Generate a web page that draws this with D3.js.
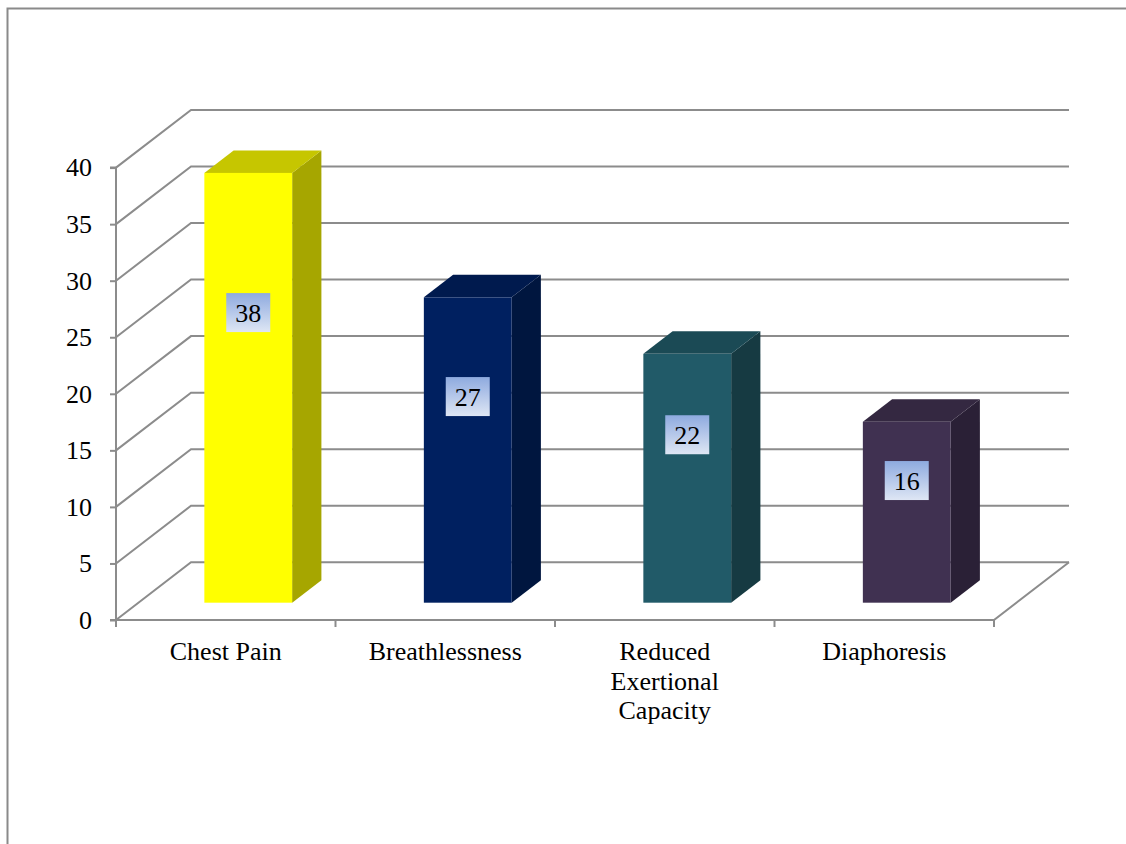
<!DOCTYPE html>
<html>
<head>
<meta charset="utf-8">
<script src="https://cdn.jsdelivr.net/npm/d3@7"></script>
<style>
  html, body { margin: 0; padding: 0; background: #ffffff; }
  svg { display: block; }
  svg text { font-family: "Times New Roman", "Liberation Serif", "DejaVu Serif", serif; fill: #000; }
</style>
</head>
<body>
<svg id="chart" width="1126" height="844"></svg>
<script>
// Symptom counts
const categories = ["Chest Pain", "Breathlessness", "Reduced Exertional Capacity", "Diaphoresis"];
const values = [38, 27, 22, 16];
const yTicks = [0, 5, 10, 15, 20, 25, 30, 35, 40];

// Bar face colours: front, top, side
const frontColors = ["#FFFF00", "#002060", "#215A68", "#403151"];
const topColors   = ["#C6C600", "#001A4E", "#1B4A55", "#342841"];
const sideColors  = ["#A6A600", "#00163F", "#163A42", "#2A2036"];

const FONT = '"Times New Roman", "Liberation Serif", "DejaVu Serif", serif';

const svg = d3.select("#chart");
const W = 1126, H = 844;

// Plot geometry (oblique 3D projection)
const x0 = 116, x1 = 994;        // front floor edge
const yBase = 620, yTop = 167.6; // front y for 0 and 40
const depthX = 75, depthY = -57.7; // full depth offset of the back wall
const barFront = 0.30, barBack = 0.69; // bar depth position (fraction of full depth)
const barWidthFrac = 0.40;
const labelFrac = 0.675;         // label height along the bar's front face
const gridColor = "#8C8C8C";

const y = d3.scaleLinear().domain([0, 40]).range([yBase, yTop]);
const x = d3.scaleBand().domain(categories).range([x0, x1]).padding(0);

// Outer border
svg.append("rect")
  .attr("x", 7.5).attr("y", 8.5)
  .attr("width", W + 20).attr("height", H + 20)
  .attr("fill", "none").attr("stroke", "#8A8A8A").attr("stroke-width", 2);

// Side wall diagonals + back wall gridlines
const grid = svg.append("g").attr("fill", "none").attr("stroke", gridColor).attr("stroke-width", 2);
yTicks.forEach(t => {
  const yy = y(t);
  grid.append("path")
    .attr("d", d3.line()([[x0, yy], [x0 + depthX, yy + depthY], [x1 + depthX, yy + depthY]]));
});

// Floor: front edge and right edge
grid.append("path").attr("d", d3.line()([[x0, yBase], [x1, yBase], [x1 + depthX, yBase + depthY]]));

// Bars
const fdx = depthX * barFront, fdy = depthY * barFront;
const sdx = depthX * (barBack - barFront), sdy = depthY * (barBack - barFront);
const bars = svg.append("g");
categories.forEach((c, i) => {
  const v = values[i];
  const bw = x.bandwidth() * barWidthFrac;
  const left = x(c) + (x.bandwidth() - bw) / 2 + fdx;
  const right = left + bw;
  const bottom = y(0) + fdy;
  const top = y(v) + fdy;
  // side face
  bars.append("path")
    .attr("d", d3.line()([[right, bottom], [right + sdx, bottom + sdy], [right + sdx, top + sdy], [right, top]]) + "Z")
    .attr("fill", sideColors[i]);
  // top face
  bars.append("path")
    .attr("d", d3.line()([[left, top], [left + sdx, top + sdy], [right + sdx, top + sdy], [right, top]]) + "Z")
    .attr("fill", topColors[i]);
  // front face
  bars.append("rect")
    .attr("x", left).attr("y", top)
    .attr("width", bw).attr("height", bottom - top)
    .attr("fill", frontColors[i]);
});

// Value label boxes
const defs = svg.append("defs");
const grad = defs.append("linearGradient").attr("id", "labelFill")
  .attr("x1", 0).attr("y1", 0).attr("x2", 0).attr("y2", 1);
grad.append("stop").attr("offset", "0%").attr("stop-color", "#8EAADF");
grad.append("stop").attr("offset", "100%").attr("stop-color", "#DEE6F4");

const labels = svg.append("g");
categories.forEach((c, i) => {
  const v = values[i];
  const cx = x(c) + x.bandwidth() / 2 + fdx;
  const bottom = y(0) + fdy;
  const top = y(v) + fdy;
  const cy = bottom - (bottom - top) * labelFrac;
  const bw = 44, bh = 39;
  labels.append("rect")
    .attr("x", cx - bw / 2).attr("y", cy - bh / 2)
    .attr("width", bw).attr("height", bh)
    .attr("fill", "url(#labelFill)");
  labels.append("text")
    .attr("x", cx).attr("y", cy)
    .attr("dy", "0.35em")
    .attr("text-anchor", "middle")
    .attr("font-family", FONT)
    .attr("font-size", 26)
    .text(v);
});

// Value axis (front left edge)
const yAxis = d3.axisLeft(y).tickValues(yTicks).tickSize(6).tickPadding(18);
const yg = svg.append("g").attr("transform", `translate(${x0},0)`).call(yAxis)
  .attr("font-family", FONT).attr("font-size", 26);
yg.select(".domain").attr("stroke", gridColor).attr("stroke-width", 2).attr("d", `M-6,${yTop}H0V${yBase}H-6`);
yg.selectAll(".tick line").attr("stroke", gridColor).attr("stroke-width", 2);
yg.selectAll(".tick text").attr("fill", "#000");

// Category axis ticks on the front floor edge
const bounds = categories.map(c => x(c)).concat([x1]);
svg.append("g").attr("stroke", gridColor).attr("stroke-width", 2)
  .selectAll("line").data(bounds).join("line")
  .attr("x1", d => d).attr("x2", d => d)
  .attr("y1", yBase).attr("y2", yBase + 7);

// Category labels, wrapped word by word
const catG = svg.append("g").attr("font-family", FONT);
categories.forEach(c => {
  const cx = x(c) + x.bandwidth() / 2;
  const t = catG.append("text")
    .attr("x", cx).attr("y", 660)
    .attr("text-anchor", "middle")
    .attr("font-size", 26);
  const words = c.split(" ");
  let line = [];
  let tspan = t.append("tspan").attr("x", cx).attr("dy", 0);
  words.forEach(w => {
    line.push(w);
    tspan.text(line.join(" "));
    if (tspan.node().getComputedTextLength() > 170 && line.length > 1) {
      line.pop();
      tspan.text(line.join(" "));
      line = [w];
      tspan = t.append("tspan").attr("x", cx).attr("dy", 29.5).text(w);
    }
  });
});
</script>
</body>
</html>
